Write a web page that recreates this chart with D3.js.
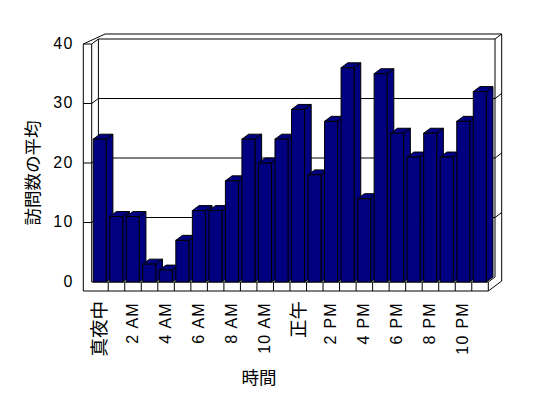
<!DOCTYPE html>
<html><head><meta charset="utf-8">
<script src="https://cdnjs.cloudflare.com/ajax/libs/d3/7.8.5/d3.min.js"></script>
<style>
body{margin:0;background:#fff;}
text{font-family:"Liberation Sans",Arial,"Noto Sans CJK JP",sans-serif;fill:#000;}
.cjk{font-family:"Noto Sans CJK JP",sans-serif;}
</style></head><body>
<svg id="c" width="548" height="398"></svg>
<script>
const categories = ["真夜中","1","2 AM","3","4 AM","5","6 AM","7","8 AM","9","10 AM","11","正午","13","2 PM","15","4 PM","17","6 PM","19","8 PM","21","10 PM","23"];
const tickLabels = ["真夜中","2 AM","4 AM","6 AM","8 AM","10 AM","正午","2 PM","4 PM","6 PM","8 PM","10 PM"];
const visits = [24,11,11,3,2,7,12,12,17,24,20,24,29,18,27,36,14,35,25,21,25,21,27,32];
const yTicks = [0,10,20,30,40];
const yTitle = "訪問数の平均";
const xTitle = "時間";

const svg = d3.select("#c");
const DX = 6.7, DY = -5;           // depth offset front->back
const x = d3.scaleBand().domain(categories).range([91.7, 488.3]).padding(0);
const y = d3.scaleLinear().domain([0,40]).range([282,44]);
const yb = v => y(v) + DY;
const L = 83.3, XI = 91.7, XB = XI + DX, XR = 488.3 + DX, FLB = 291;

const g = svg.append("g").attr("stroke","#000").attr("stroke-width",1).attr("fill","none");
const line = (pts) => g.append("path").attr("d", d3.line()(pts));

// back wall outer (thickness) edges
line([[L,44],[XB+DX,y(40)+2*DY],[XR+DX,y(40)+2*DY],[XR+DX,yb(0)+DY+9]]);
// back wall inner face
line([[XI,y(40)],[XB,yb(40)],[XR,yb(40)],[XR+DX,yb(40)+DY]]);
line([[XB,yb(40)],[XB,yb(0)]]);
line([[XR,yb(40)],[XR,yb(0)]]);
// side wall front edges
line([[L,y(40)],[L,FLB]]);
line([[XI,y(40)],[XI,y(0)]]);
line([[L,y(40)],[XI,y(40)]]);
// gridlines
yTicks.filter(v=>v>0 && v<40).forEach(v=>{
  line([[L,y(v)],[XI,y(v)],[XB,yb(v)],[XR,yb(v)],[XR+DX,yb(v)+DY]]);
});
// floor
line([[XI,y(0)],[488.3,y(0)],[XR,yb(0)]]);
line([[L,FLB],[488.3,FLB],[488.3,y(0)]]);
line([[488.3,FLB],[XR+DX,FLB+2*DY]]);
categories.forEach((c,i)=>{ if(i>0) line([[x(c),y(0)],[x(c),FLB]]); });

// bars
const bw = 13, off = 1.5;
const bars = svg.append("g").attr("stroke","#000").attr("stroke-width",1).attr("fill","#000080").attr("stroke-linejoin","miter");
visits.forEach((v,i)=>{
  const x0 = x(categories[i]) + off, x1 = x0 + bw, yt = y(v), y0 = y(0);
  bars.append("path").attr("d", d3.line()([[x1,y0],[x1+DX,y0+DY],[x1+DX,yt+DY],[x1,yt]])+"Z");
  bars.append("path").attr("d", d3.line()([[x0,yt],[x0+DX,yt+DY],[x1+DX,yt+DY],[x1,yt]])+"Z");
  bars.append("rect").attr("x",x0).attr("y",yt).attr("width",bw).attr("height",y0-yt);
});

// y axis labels
svg.append("g").selectAll("text").data(yTicks).join("text")
  .attr("x",74).attr("y",d=>y(d)-1).attr("dy","0.35em").attr("text-anchor","end")
  .style("font-size","16px").style("letter-spacing","1.5px").text(d=>d);

// x labels
const isCJK = s => /[\u3000-\u9fff]/.test(s);
svg.append("g").selectAll("text").data(tickLabels).join("text")
  .attr("class",d=>isCJK(d)?"cjk":null)
  .attr("transform",(d,i)=>`translate(${x(categories[i*2])+x.bandwidth()/2 - (isCJK(d)?0:1)},${isCJK(d)?301:302}) rotate(-90)`)
  .attr("text-anchor","end").attr("dy","0.35em")
  .style("font-size",d=>isCJK(d)?"18.5px":"16px")
  .style("letter-spacing",d=>isCJK(d)?"0px":"1.3px")
  .text(d=>d);

svg.append("text").attr("class","cjk").attr("transform","translate(33,173) rotate(-90)").attr("text-anchor","middle")
  .attr("dy","0.35em").style("font-size","17.5px").text(yTitle);
svg.append("text").attr("class","cjk").attr("x",259).attr("y",378).attr("text-anchor","middle")
  .attr("dy","0.35em").style("font-size","17.5px").text(xTitle);
</script></body></html>
